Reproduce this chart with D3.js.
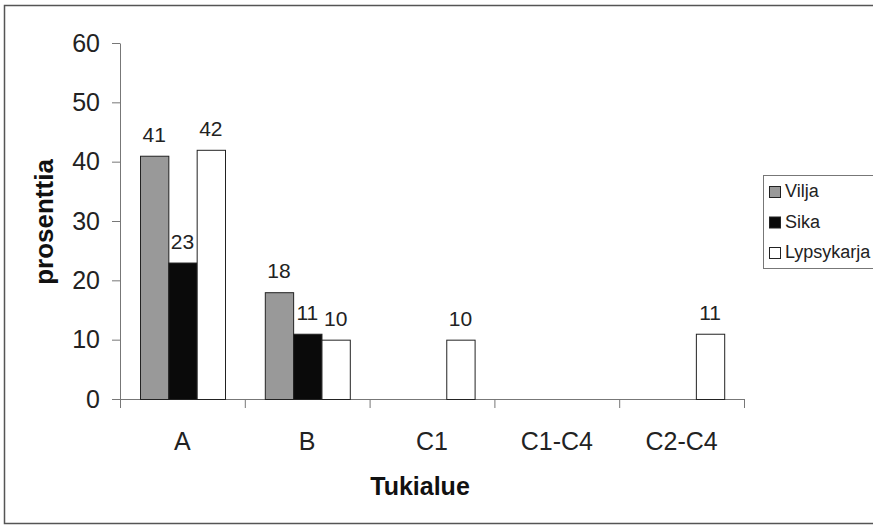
<!DOCTYPE html>
<html>
<head>
<meta charset="utf-8">
<script src="https://cdn.jsdelivr.net/npm/d3@7"></script>
<style>
  body { margin: 0; background: #fff; }
  text { font-family: "Liberation Sans", Arial, sans-serif; }
</style>
</head>
<body>
<div id="container"></div>
<script>
/* DATA */
const categories = ["A", "B", "C1", "C1-C4", "C2-C4"];
const seriesNames = ["Vilja", "Sika", "Lypsykarja"];
const vilja = [41, 18, null, null, null];
const sika = [23, 11, null, null, null];
const lypsykarja = [42, 10, 10, null, 11];
const yTicks = [0, 10, 20, 30, 40, 50, 60];

const seriesValues = [vilja, sika, lypsykarja];
const seriesColors = ["#999999", "#0a0a0a", "#ffffff"];

/* LAYOUT */
const W = 873, H = 526;
const plot = { left: 120, right: 744, top: 43, bottom: 399 };

const svg = d3.select("#container")
  .append("svg")
  .attr("width", W)
  .attr("height", H);

// outer frame (left, top, bottom edges visible)
svg.append("path")
  .attr("d", `M${W},5.5 H4.5 V523.5 H${W}`)
  .attr("fill", "none")
  .attr("stroke", "#555")
  .attr("stroke-width", 1.5);

/* SCALES */
const x = d3.scaleBand()
  .domain(categories)
  .range([plot.left, plot.right]);

const x1 = d3.scaleBand()
  .domain(seriesNames)
  .range([20, 105]);

const y = d3.scaleLinear()
  .domain([0, 60])
  .range([plot.bottom, plot.top]);

const colorScale = d3.scaleOrdinal()
  .domain(seriesNames)
  .range(seriesColors);

// table built from the arrays
const table = [];
categories.forEach((c, i) => {
  seriesNames.forEach((s, j) => {
    if (seriesValues[j][i] != null) table.push({ cat: c, series: s, value: seriesValues[j][i] });
  });
});

/* AXES */
const yAxis = svg.append("g")
  .attr("transform", `translate(${plot.left},0)`)
  .call(d3.axisLeft(y).tickValues(yTicks).tickSize(8).tickPadding(12).tickSizeOuter(0));
yAxis.select(".domain").attr("stroke", "#777");
yAxis.selectAll(".tick line").attr("stroke", "#777");
yAxis.selectAll(".tick text")
  .attr("font-size", 25)
  .attr("fill", "#222")
  .attr("font-family", "'Liberation Sans', Arial, sans-serif");

// x axis line and boundary ticks
const xAxis = svg.append("g");
xAxis.append("line")
  .attr("x1", plot.left).attr("x2", plot.right)
  .attr("y1", plot.bottom + 0.5).attr("y2", plot.bottom + 0.5)
  .attr("stroke", "#777");
const boundaries = categories.map(c => x(c)).concat([x.range()[1]]);
xAxis.selectAll("line.tick")
  .data(boundaries)
  .join("line")
  .attr("class", "tick")
  .attr("x1", d => d + 0.5).attr("x2", d => d + 0.5)
  .attr("y1", plot.bottom).attr("y2", plot.bottom + 9)
  .attr("stroke", "#777");
xAxis.selectAll("text.cat")
  .data(categories)
  .join("text")
  .attr("class", "cat")
  .attr("x", d => x(d) + x.bandwidth() / 2)
  .attr("y", 450)
  .attr("text-anchor", "middle")
  .attr("font-size", 25)
  .attr("fill", "#222")
  .text(d => d);

/* BARS */
svg.selectAll("rect.bars")
  .data(table)
  .join("rect")
  .attr("class", "bars")
  .attr("x", d => x(d.cat) + x1(d.series) + 0.5)
  .attr("y", d => y(d.value) + 0.5)
  .attr("width", x1.bandwidth())
  .attr("height", d => y(0) - y(d.value))
  .attr("fill", d => colorScale(d.series))
  .attr("stroke", "#222")
  .attr("stroke-width", 1);

// value labels
svg.selectAll("text.val")
  .data(table)
  .join("text")
  .attr("class", "val")
  .attr("x", d => x(d.cat) + x1(d.series) + x1.bandwidth() / 2)
  .attr("y", d => y(d.value) - 14)
  .attr("text-anchor", "middle")
  .attr("font-size", 21)
  .attr("fill", "#222")
  .text(d => d.value);

/* AXIS TITLES */
svg.append("text")
  .attr("transform", "translate(53,222) rotate(-90)")
  .attr("text-anchor", "middle")
  .attr("font-size", 26)
  .attr("font-weight", "bold")
  .attr("fill", "#111")
  .text("prosenttia");

svg.append("text")
  .attr("x", 420)
  .attr("y", 495)
  .attr("text-anchor", "middle")
  .attr("font-size", 25)
  .attr("font-weight", "bold")
  .attr("fill", "#111")
  .text("Tukialue");

/* LEGEND */
const legend = svg.append("g");
legend.append("rect")
  .attr("x", 763.5).attr("y", 175.5)
  .attr("width", 120).attr("height", 93)
  .attr("fill", "#fff")
  .attr("stroke", "#777");
const items = legend.selectAll("g.item")
  .data(seriesNames)
  .join("g")
  .attr("class", "item")
  .attr("transform", (d, i) => `translate(769,${197 + i * 30.5})`);
items.append("rect")
  .attr("x", 0.5).attr("y", -10.5)
  .attr("width", 11).attr("height", 11)
  .attr("fill", d => colorScale(d))
  .attr("stroke", "#222");
items.append("text")
  .attr("x", 16)
  .attr("y", 0)
  .attr("font-size", 18)
  .attr("fill", "#222")
  .text(d => d);
</script>
</body>
</html>
